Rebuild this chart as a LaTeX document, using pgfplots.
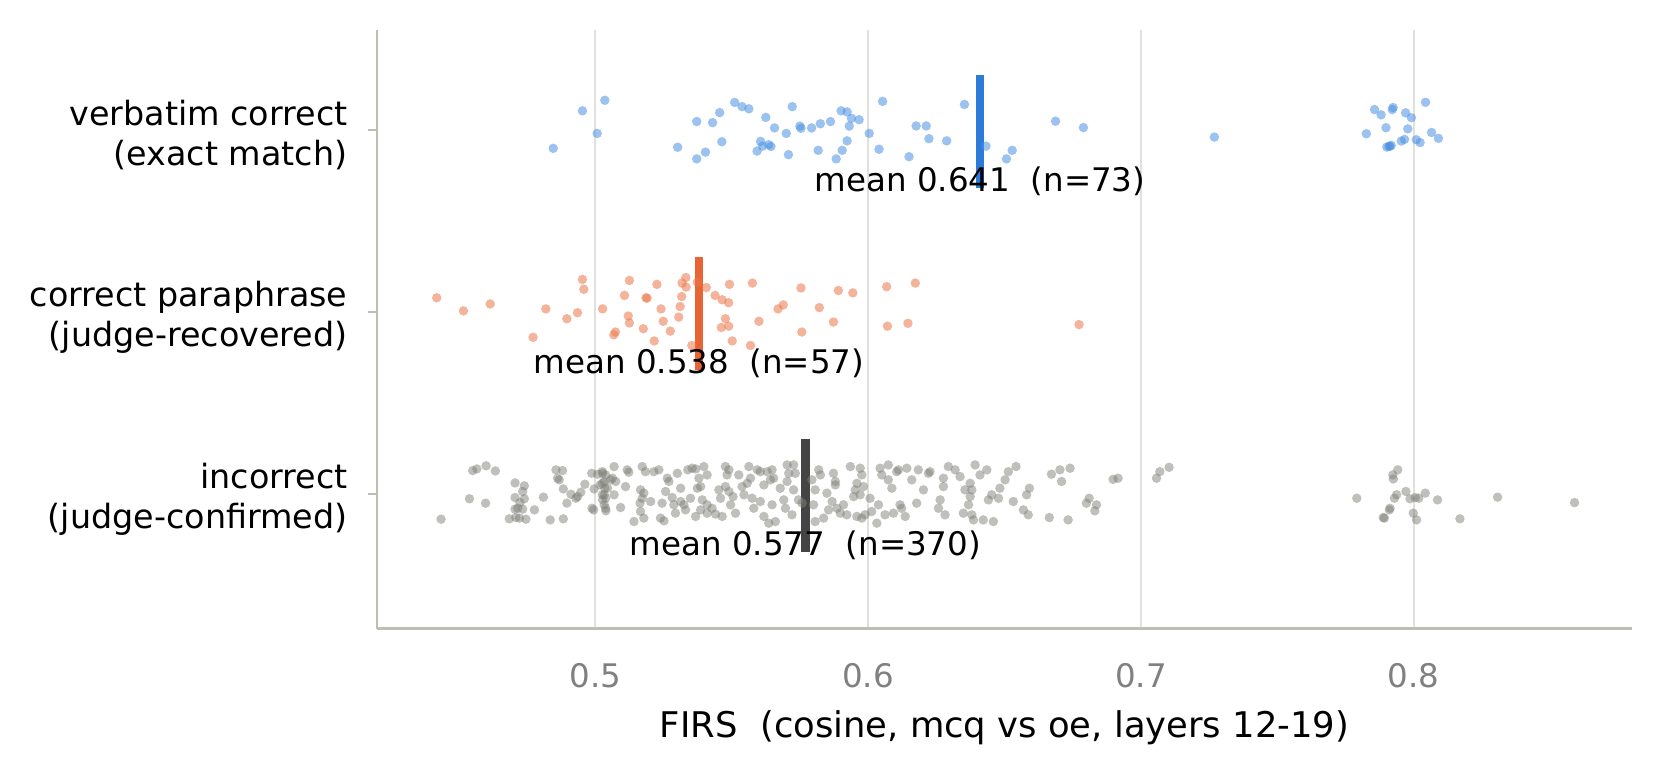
\documentclass[border=0pt]{standalone}
\usepackage{fontspec}
\setmainfont{DejaVu Sans}
\usepackage{pgfplots}
\pgfplotsset{compat=1.18}

\definecolor{bluept}{RGB}{75,144,226}
\definecolor{bluebar}{RGB}{44,123,216}
\definecolor{orangept}{RGB}{235,119,75}
\definecolor{orangebar}{RGB}{232,100,50}
\definecolor{greypt}{RGB}{128,128,120}
\definecolor{greybar}{RGB}{68,68,68}
\definecolor{spine}{RGB}{190,190,180}
\definecolor{gridc}{RGB}{224,224,220}
\definecolor{ticktext}{RGB}{128,128,128}

% verbatim correct (exact match), row 2
\pgfplotstableread{
x y
0.4846 1.898
0.4953 2.104
0.5035 2.162
0.5007 1.980
0.5302 1.904
0.5372 2.045
0.5372 1.840
0.5404 1.877
0.5430 2.039
0.5456 2.094
0.5464 1.934
0.5511 2.150
0.5538 2.127
0.5563 2.115
0.5625 2.068
0.5657 2.010
0.5606 1.936
0.5593 1.883
0.5613 1.910
0.5636 1.918
0.5644 1.908
0.5700 1.980
0.5708 1.863
0.5722 2.127
0.5750 2.020
0.5754 2.008
0.5793 2.010
0.5825 2.033
0.5817 1.887
0.5862 2.045
0.5883 1.840
0.5905 1.887
0.5923 1.939
0.5901 2.104
0.5923 2.098
0.5939 2.063
0.5931 2.020
0.5967 2.055
0.6004 1.980
0.6040 1.893
0.6053 2.156
0.6150 1.852
0.6176 2.021
0.6213 2.021
0.6223 1.951
0.6288 1.939
0.6353 2.139
0.6432 1.910
0.6507 1.840
0.6528 1.887
0.6687 2.047
0.6789 2.012
0.7269 1.960
0.7856 2.111
0.7880 2.082
0.7921 2.111
0.7924 2.122
0.7970 2.093
0.7991 2.066
0.8043 2.151
0.7826 1.978
0.7898 2.011
0.7978 2.005
0.7966 1.947
0.7954 1.938
0.8009 1.945
0.8023 1.930
0.7909 1.908
0.7917 1.914
0.7901 1.905
0.7912 1.910
0.8065 1.985
0.8090 1.953
}\verbatimtab

% correct paraphrase (judge-recovered), row 1
\pgfplotstableread{
x y
0.4419 1.077
0.4517 1.005
0.4615 1.043
0.4772 0.860
0.4819 1.016
0.4896 0.962
0.4935 0.995
0.4953 1.178
0.4958 1.124
0.5027 1.016
0.5068 0.874
0.5074 0.889
0.5107 1.090
0.5121 0.977
0.5125 0.939
0.5125 1.172
0.5176 0.907
0.5186 1.077
0.5190 1.075
0.5216 0.840
0.5226 1.151
0.5241 1.016
0.5249 0.948
0.5275 0.894
0.5306 0.971
0.5311 1.029
0.5317 1.084
0.5318 1.158
0.5332 1.188
0.5333 1.136
0.5354 0.815
0.5374 1.163
0.5407 1.133
0.5439 1.090
0.5465 1.066
0.5489 1.050
0.5477 0.962
0.5462 0.914
0.5489 0.921
0.5492 1.151
0.5502 0.840
0.5569 0.815
0.5576 1.158
0.5600 0.948
0.5670 1.016
0.5689 1.038
0.5754 1.131
0.5757 0.889
0.5821 1.023
0.5873 0.944
0.5891 1.117
0.5944 1.104
0.6068 1.138
0.6071 0.921
0.6146 0.937
0.6173 1.158
0.6773 0.930
}\paraphrasetab

% incorrect (judge-confirmed), row 0
\pgfplotstableread{
x y
0.4435 -0.139
0.4539 -0.027
0.4551 0.128
0.4566 0.137
0.4600 0.154
0.4634 0.126
0.4598 -0.051
0.4706 0.060
0.4740 0.044
0.4734 0.013
0.4706 -0.020
0.4740 -0.027
0.4724 -0.048
0.4716 -0.079
0.4706 -0.084
0.4734 -0.084
0.4685 -0.137
0.4709 -0.130
0.4722 -0.133
0.4746 -0.139
0.4777 -0.088
0.4810 -0.018
0.4835 -0.143
0.4856 0.132
0.4880 0.128
0.4862 0.086
0.4868 0.077
0.4883 0.027
0.4883 -0.137
0.4896 -0.051
0.4911 -0.002
0.4929 -0.024
0.4935 -0.015
0.4947 0.009
0.4962 0.053
0.4987 0.113
0.4996 0.027
0.4988 -0.079
0.4994 -0.088
0.5009 0.108
0.5027 0.113
0.5018 0.049
0.5033 0.068
0.5033 -0.005
0.5027 -0.033
0.5033 -0.060
0.5039 -0.093
0.5045 0.031
0.5026 0.122
0.5038 0.104
0.5026 0.058
0.5035 0.031
0.5026 -0.005
0.5038 -0.024
0.5038 -0.079
0.5069 0.150
0.5056 0.077
0.5075 0.068
0.5069 -0.005
0.5093 -0.075
0.5063 0.086
0.5117 0.132
0.5123 0.119
0.5111 0.040
0.5142 -0.152
0.5172 0.150
0.5184 0.122
0.5166 0.022
0.5178 0.004
0.5172 -0.024
0.5164 -0.051
0.5166 -0.097
0.5178 -0.133
0.5203 -0.042
0.5215 0.122
0.5233 0.132
0.5239 -0.133
0.5252 -0.148
0.5245 -0.051
0.5258 0.013
0.5270 0.068
0.5264 0.086
0.5282 -0.020
0.5288 -0.060
0.5294 -0.106
0.5301 0.113
0.5313 0.031
0.5313 -0.042
0.5325 -0.060
0.5331 -0.088
0.5339 0.132
0.5355 0.141
0.5368 0.137
0.5349 -0.024
0.5368 -0.124
0.5374 0.031
0.5380 0.086
0.5386 0.040
0.5398 0.150
0.5410 0.104
0.5392 -0.033
0.5410 -0.060
0.5386 -0.088
0.5410 -0.106
0.5428 -0.079
0.5441 -0.111
0.5453 0.022
0.5459 -0.024
0.5465 -0.124
0.5477 0.150
0.5483 0.104
0.5490 0.132
0.5477 0.040
0.5490 0.013
0.5496 -0.060
0.5505 -0.015
0.5514 -0.106
0.5526 0.104
0.5538 0.040
0.5545 -0.005
0.5557 0.058
0.5563 0.150
0.5569 0.086
0.5575 -0.024
0.5581 -0.079
0.5594 0.132
0.5605 0.122
0.5605 -0.042
0.5618 0.049
0.5618 -0.124
0.5636 -0.161
0.5630 0.122
0.5648 0.132
0.5642 0.077
0.5654 0.086
0.5678 0.031
0.5648 -0.060
0.5660 -0.152
0.5691 -0.033
0.5697 -0.079
0.5703 0.159
0.5709 0.113
0.5703 0.068
0.5727 0.159
0.5733 0.113
0.5727 0.022
0.5721 -0.115
0.5745 -0.033
0.5758 -0.051
0.5794 0.077
0.5806 0.022
0.5800 -0.060
0.5806 -0.152
0.5819 0.132
0.5825 0.104
0.5837 -0.133
0.5849 0.004
0.5855 -0.088
0.5873 0.113
0.5880 0.068
0.5880 0.049
0.5868 -0.042
0.5886 -0.079
0.5898 -0.106
0.5910 -0.060
0.5922 -0.115
0.5935 0.150
0.5947 -0.015
0.5959 0.058
0.5953 0.022
0.5971 0.141
0.5977 0.104
0.5983 0.040
0.5971 -0.005
0.5989 -0.115
0.5959 -0.124
0.5977 -0.133
0.6007 -0.024
0.6013 -0.097
0.6032 -0.161
0.6038 -0.060
0.6044 0.141
0.6050 0.104
0.6062 -0.115
0.6074 0.159
0.6074 0.077
0.6087 0.031
0.6093 -0.106
0.6105 0.122
0.6111 0.132
0.6117 -0.060
0.6123 -0.079
0.6136 -0.124
0.6142 0.141
0.6160 0.077
0.6178 -0.051
0.6184 0.132
0.6203 0.022
0.6221 0.113
0.6227 0.122
0.6276 0.086
0.6276 0.040
0.6294 0.150
0.6319 0.132
0.6337 0.095
0.6264 -0.033
0.6258 -0.079
0.6282 -0.115
0.6349 -0.106
0.6355 0.022
0.6374 0.058
0.6380 0.022
0.6374 -0.015
0.6368 -0.060
0.6380 -0.115
0.6386 -0.143
0.6392 0.159
0.6410 0.104
0.6435 0.132
0.6422 -0.143
0.6459 -0.152
0.6441 -0.033
0.6453 -0.005
0.6478 -0.024
0.6483 0.031
0.6502 0.077
0.6514 0.122
0.6542 0.150
0.6532 -0.042
0.6569 -0.088
0.6587 -0.115
0.6581 -0.005
0.6591 0.031
0.6664 -0.130
0.6672 0.108
0.6703 0.132
0.6709 0.068
0.6740 0.141
0.6733 -0.143
0.6800 -0.051
0.6810 -0.024
0.6837 -0.060
0.6831 -0.093
0.6898 0.080
0.6916 0.086
0.7057 0.086
0.7069 0.122
0.7103 0.146
0.7791 -0.024
0.7892 -0.133
0.7888 -0.130
0.7910 -0.088
0.7913 -0.079
0.7929 -0.024
0.7937 -0.005
0.7923 0.104
0.7925 0.082
0.7941 0.132
0.7971 0.013
0.7986 -0.027
0.8005 -0.020
0.8018 -0.024
0.7998 -0.106
0.8010 -0.143
0.8042 0.004
0.8087 -0.033
0.8169 -0.137
0.8307 -0.018
0.8589 -0.048
}\incorrecttab

\begin{document}
\fontsize{11.3}{13.6}\selectfont
\begin{tikzpicture}
\begin{axis}[
    name=ax,
    scale only axis,
    width=436.5pt, height=208.3pt,
    xmin=0.42, xmax=0.88,
    ymin=-0.74, ymax=2.55,
    axis x line*=bottom, axis y line*=left,
    axis line style={spine, line width=0.8pt, -},
    xtick={0.5,0.6,0.7,0.8},
    xticklabels={0.5,0.6,0.7,0.8},
    ytick={0,1,2},
    yticklabels={{incorrect\\(judge-confirmed)},{correct paraphrase\\(judge-recovered)},{verbatim correct\\(exact match)}},
    yticklabel style={align=right, font=\fontsize{11.6}{13.9}\selectfont, xshift=-3.3pt, yshift=-1.8pt},
    xticklabel style={text=ticktext, yshift=-5pt},
    xmajorgrids=true,
    grid style={gridc, line width=0.7pt},
    tick align=outside,
    major tick length=3pt,
    xtick style={draw=none},
    ytick style={spine, line width=0.8pt},
    xlabel={FIRS\ \ (cosine, mcq vs oe, layers 12-19)},
    xlabel style={font=\fontsize{12.3}{14.5}\selectfont, yshift=-0.3pt},
    /pgf/number format/assume math mode=true,
]
\addplot[only marks, mark=*, mark size=1.65pt,
    mark options={draw opacity=0, fill=greypt, fill opacity=0.5}] table {\incorrecttab};
\addplot[only marks, mark=*, mark size=1.65pt,
    mark options={draw opacity=0, fill=orangept, fill opacity=0.55}] table {\paraphrasetab};
\addplot[only marks, mark=*, mark size=1.65pt,
    mark options={draw opacity=0, fill=bluept, fill opacity=0.55}] table {\verbatimtab};

% mean markers
\addplot[bluebar, line width=2.9pt] coordinates {(0.641,1.68) (0.641,2.30)};
\addplot[orangebar, line width=2.9pt] coordinates {(0.538,0.68) (0.538,1.30)};
\addplot[greybar, line width=2.9pt] coordinates {(0.577,-0.32) (0.577,0.30)};

\node at (axis cs:0.641,1.715) {mean 0.641\ \ (n=73)};
\node at (axis cs:0.538,0.715) {mean 0.538\ \ (n=57)};
\node at (axis cs:0.577,-0.285) {mean 0.577\ \ (n=370)};
\end{axis}
\pgfresetboundingbox
\path ([xshift=-131.1pt,yshift=-50.2pt]ax.south west) rectangle ([xshift=10.4pt,yshift=10.3pt]ax.north east);
\end{tikzpicture}
\end{document}
